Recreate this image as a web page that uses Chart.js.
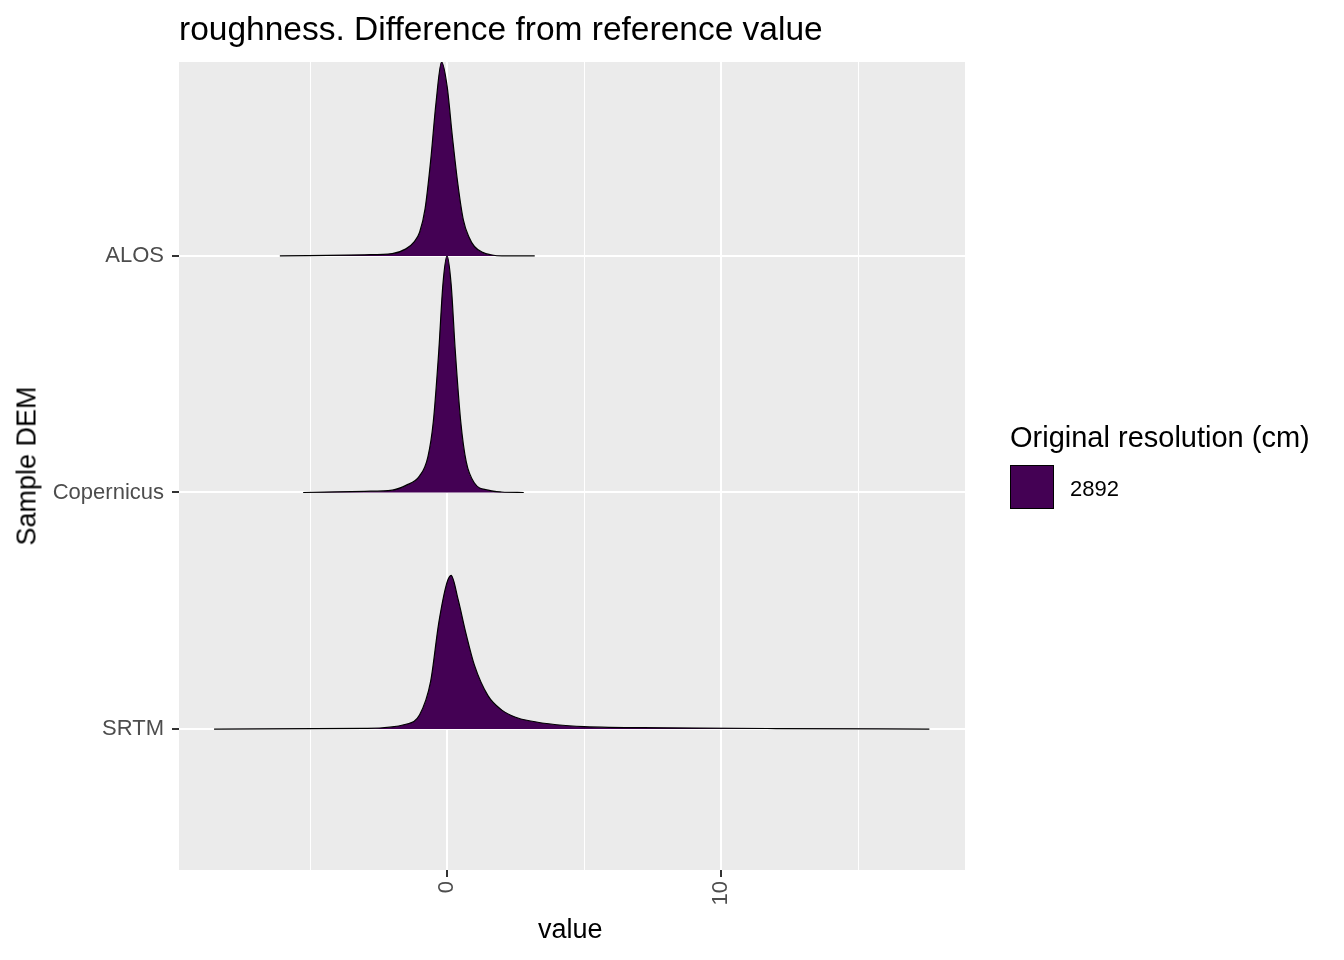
<!DOCTYPE html>
<html><head><meta charset="utf-8">
<script src="https://cdn.jsdelivr.net/npm/chart.js@4"></script>
<style>
body{margin:0;background:#fff;font-family:Arial,"Liberation Sans",sans-serif;}
#w{position:relative;width:1344px;height:960px;}
.t{position:absolute;white-space:nowrap;color:#000;}
</style></head><body>
<div id="w">
<canvas id="c" width="1344" height="960"></canvas>
<div class="t" style="left:179px;top:10px;font-size:33.5px;">roughness. Difference from reference value</div>
<div class="t" style="left:538px;top:914px;font-size:27px;">value</div>
<div class="t" style="left:27px;top:466px;font-size:27px;transform:translate(-50%,-50%) rotate(-90deg);">Sample DEM</div>
<div class="t" style="left:1010px;top:421px;font-size:29px;">Original resolution (cm)</div>
<div style="position:absolute;left:1010px;top:465px;width:42px;height:42px;background:#440154;border:1px solid #000;"></div>
<div class="t" style="left:1070px;top:476px;font-size:22px;">2892</div>
</div>
<script>
const categories=["SRTM","Copernicus","ALOS"];
const alosX=[-6.1,-3,-2,-1.5,-1.2,-1,-0.8,-0.6,-0.4,-0.2,0,0.2,0.4,0.6,0.8,1.0,1.3,1.6,2,3.2];
const alosH=[0,0.005,0.01,0.03,0.06,0.1,0.2,0.4,0.65,0.82,0.72,0.5,0.3,0.15,0.08,0.04,0.015,0.005,0,0];
const copX=[-5.25,-3,-2,-1.5,-1.0,-0.7,-0.5,-0.3,-0.15,0,0.15,0.3,0.5,0.7,1.0,1.5,2,2.8];
const copH=[0,0.005,0.01,0.03,0.07,0.15,0.3,0.6,0.88,1.0,0.88,0.6,0.3,0.13,0.04,0.01,0.002,0];
const srtmX=[-8.5,-3,-1.5,-1,-0.6,-0.3,0,0.15,0.4,0.7,1,1.5,2,2.5,3,4,5,8,12,17.6];
const srtmH=[0,0.003,0.02,0.06,0.2,0.45,0.62,0.65,0.55,0.4,0.27,0.14,0.08,0.05,0.035,0.018,0.01,0.005,0.002,0];
const xTicks=[-5,0,5,10,15];
const xLabels={0:"0",10:"10"};
function ds(xs,hs,base){return{data:xs.map((x,i)=>({x:x,y:base+hs[i]})),fill:{value:base},backgroundColor:"#440154",borderColor:"#000",borderWidth:1.2,pointRadius:0,tension:0.4,cubicInterpolationMode:"monotone"};}
const bg={id:"bg",beforeDraw(c){const a=c.chartArea,x=c.ctx;x.save();x.fillStyle="#EBEBEB";x.fillRect(a.left,a.top,a.right-a.left,a.bottom-a.top);x.restore();}};
new Chart(document.getElementById("c"),{type:"line",
data:{datasets:[ds(alosX,alosH,3),ds(copX,copH,2),ds(srtmX,srtmH,1)]},
options:{responsive:false,animation:false,layout:{padding:{top:62,right:379,left:0,bottom:0}},
plugins:{legend:{display:false},tooltip:{enabled:false}},
scales:{
x:{type:"linear",min:-9.78,max:18.9,afterBuildTicks(s){s.ticks=xTicks.map(v=>({value:v}));},
afterFit(s){s.height=90;},
ticks:{minRotation:90,maxRotation:90,autoSkip:false,color:"#4D4D4D",font:{size:22},padding:4,callback:v=>xLabels[v]??""},
grid:{color:"#fff",lineWidth:c=>c.tick&&xLabels[c.tick.value]!==undefined?2:1,tickColor:c=>c.tick&&xLabels[c.tick.value]!==undefined?"#333":"rgba(0,0,0,0)",tickLength:7},border:{display:false}},
y:{type:"linear",min:0.404,max:3.82,afterBuildTicks(s){s.ticks=[1,2,3].map(v=>({value:v}));},
afterFit(s){s.width=179;},
ticks:{color:"#4D4D4D",font:{size:22},padding:8,callback:v=>categories[v-1]},
grid:{color:"#fff",lineWidth:2,tickColor:"#333",tickLength:7},border:{display:false}}}},
plugins:[bg]});
</script></body></html>
